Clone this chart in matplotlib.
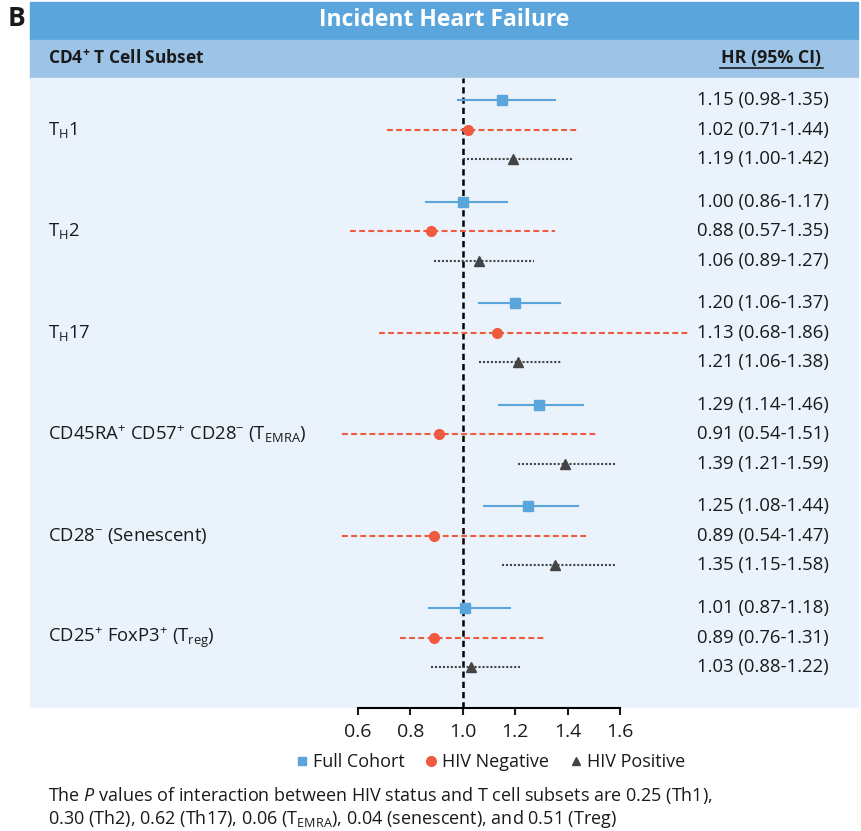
import matplotlib
matplotlib.use("Agg")
import matplotlib.pyplot as plt
from matplotlib.patches import Rectangle
from matplotlib.lines import Line2D
from matplotlib.transforms import blended_transform_factory

# ---- data ----
subsets = [r'T$_\mathregular{H}$1', r'T$_\mathregular{H}$2', r'T$_\mathregular{H}$17',
           r'CD45RA$^\mathregular{+}$ CD57$^\mathregular{+}$ CD28$^\mathregular{-}$ (T$_\mathregular{EMRA}$)',
           r'CD28$^\mathregular{-}$ (Senescent)',
           r'CD25$^\mathregular{+}$ FoxP3$^\mathregular{+}$ (T$_\mathregular{reg}$)']
groups = ['Full Cohort', 'HIV Negative', 'HIV Positive']

full_hr = [1.15, 1.00, 1.20, 1.29, 1.25, 1.01]
full_lo = [0.98, 0.86, 1.06, 1.14, 1.08, 0.87]
full_hi = [1.35, 1.17, 1.37, 1.46, 1.44, 1.18]

neg_hr = [1.02, 0.88, 1.13, 0.91, 0.89, 0.89]
neg_lo = [0.71, 0.57, 0.68, 0.54, 0.54, 0.76]
neg_hi = [1.44, 1.35, 1.86, 1.51, 1.47, 1.31]

pos_hr = [1.19, 1.06, 1.21, 1.39, 1.35, 1.03]
pos_lo = [1.00, 0.89, 1.06, 1.21, 1.15, 0.88]
pos_hi = [1.42, 1.27, 1.38, 1.59, 1.58, 1.22]

x_ticks = [0.6, 0.8, 1.0, 1.2, 1.4, 1.6]

# ---- style ----
FONT = ['Open Sans', 'DejaVu Sans']
plt.rcParams['font.family'] = FONT
plt.rcParams['mathtext.fontset'] = 'custom'
plt.rcParams['mathtext.rm'] = 'Open Sans'
plt.rcParams['mathtext.it'] = 'Open Sans:italic'
plt.rcParams['mathtext.bf'] = 'Open Sans:bold'

c_full = '#5aa5dc'
c_neg = '#f05a3e'
c_pos = '#444444'
c_head = '#5aa5dc'
c_sub = '#9dc3e7'
c_panel = '#eaf2fb'
c_text = '#1a1a1a'

W, H = 861, 831
fig = plt.figure(figsize=(W / 100, H / 100), dpi=100)


def fx(p):
    return p / W


def fy(p):
    return 1 - p / H


# background bands (behind the axes)
for top, bot, col in [(2, 40, c_head), (40, 78, c_sub), (78, 707, c_panel)]:
    fig.patches.append(Rectangle((fx(30), fy(bot)), fx(828), (bot - top) / H,
                                 transform=fig.transFigure, color=col, zorder=-10))

fig.text(fx(8), fy(19), 'B', fontsize=19, fontweight='bold', color=c_text, va='center', ha='left')
fig.text(fx(444), fy(20), 'Incident Heart Failure', fontsize=16.5, fontweight='bold',
         color='white', va='center', ha='center')
fig.text(fx(48), fy(58), r'CD4$^\mathbf{+}$ T Cell Subset', fontsize=12.5, fontweight='bold',
         color=c_text, va='center', ha='left')
fig.text(fx(771), fy(58), 'HR (95% CI)', fontsize=12.8, fontweight='bold',
         color=c_text, va='center', ha='center')
fig.lines.append(Line2D([fx(720), fx(823)], [fy(68), fy(68)], transform=fig.transFigure,
                        color=c_text, lw=1.2))

# main forest axes
ax = fig.add_axes([fx(358), fy(708), 262 / W, (708 - 78) / H])
ax.set_facecolor('none')
unit = 29.5
ax.set_xlim(0.6, 1.6)
ax.set_ylim((708 - 100) / unit, (78 - 100) / unit)

step = 101.6 / unit
# values, colour, marker, linestyle, dashes, marker size (plot / legend)
series = [
    (full_hr, full_lo, full_hi, c_full, 's', '-', None, 6.5, 6),
    (neg_hr, neg_lo, neg_hi, c_neg, 'o', '--', (2.8, 1.6), 7, 7),
    (pos_hr, pos_lo, pos_hi, c_pos, '^', ':', (1.0, 0.9), 6.5, 6),
]

ax.axvline(1.0, color='black', lw=1.8, dashes=(2.5, 1.6), zorder=1)

trans_lab = blended_transform_factory(fig.transFigure, ax.transData)
for g in range(len(subsets)):
    for k, (hr, lo, hi, col, mk, ls, dsh, ms, _) in enumerate(series):
        y = g * step + k
        line, = ax.plot([lo[g], hi[g]], [y, y], color=col, lw=1.5, linestyle=ls,
                        clip_on=False, zorder=2)
        if dsh is not None:
            line.set_dashes(dsh)
        ax.plot(hr[g], y, marker=mk, color=col, markersize=ms, linestyle='none',
                clip_on=False, zorder=3)
        ax.text(fx(697), y, f'{hr[g]:.2f} ({lo[g]:.2f}-{hi[g]:.2f})', transform=trans_lab,
                fontsize=13.3, color=c_text, va='center', ha='left')
    ax.text(fx(48), g * step + 1, subsets[g], transform=trans_lab, fontsize=13.3,
            color=c_text, va='center', ha='left')

for s in ['top', 'left', 'right']:
    ax.spines[s].set_visible(False)
ax.spines['bottom'].set_bounds(0.6, 1.6)
ax.spines['bottom'].set_linewidth(1.5)
ax.set_xticks(x_ticks)
ax.set_xticklabels([f'{t:.1f}' for t in x_ticks])
ax.tick_params(axis='x', length=5, width=1.5, pad=6, labelsize=14, colors=c_text)
ax.set_yticks([])

# legend
handles = [Line2D([], [], marker=s[4], color=s[3], linestyle='none', markersize=s[8])
           for s in series]
fig.legend(handles, groups, loc='center', bbox_to_anchor=(fx(489), fy(762)), ncol=3,
           frameon=False, fontsize=13, handletextpad=0.1, columnspacing=1.0,
           handlelength=1.0, labelcolor=c_text)

# footnote
fig.text(fx(48), fy(796),
         r'The $\mathit{P}$ values of interaction between HIV status and T cell subsets are 0.25 (Th1),',
         fontsize=13, color=c_text, va='center', ha='left')
fig.text(fx(48), fy(819),
         r'0.30 (Th2), 0.62 (Th17), 0.06 (T$_\mathregular{EMRA}$), 0.04 (senescent), and 0.51 (Treg)',
         fontsize=13, color=c_text, va='center', ha='left')

fig.savefig('out.png', dpi=100)
